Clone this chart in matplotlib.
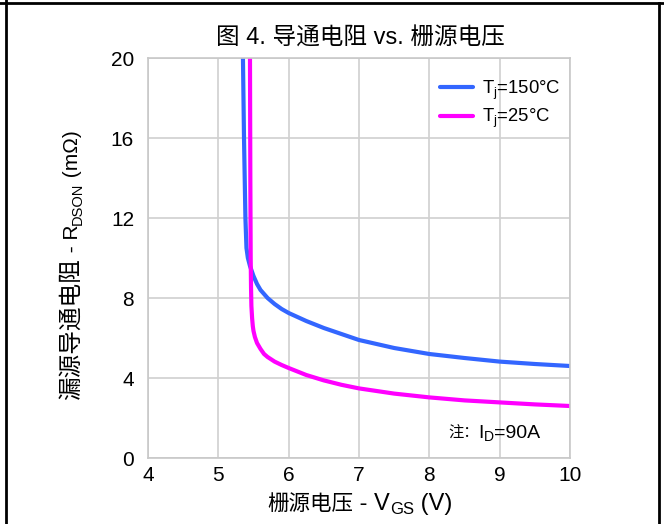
import matplotlib
matplotlib.use("Agg")
import matplotlib.pyplot as plt
from matplotlib.lines import Line2D

plt.rcParams['font.family'] = ['Liberation Sans', 'Noto Sans CJK SC', 'DejaVu Sans']
plt.rcParams['mathtext.fontset'] = 'custom'
plt.rcParams['mathtext.rm'] = 'Liberation Sans'
plt.rcParams['mathtext.it'] = 'Liberation Sans'
plt.rcParams['mathtext.default'] = 'rm'

# Tj = 150C
vgs_hot = [5.35, 5.365, 5.385, 5.40, 5.42, 5.45, 5.5, 5.55, 5.6, 5.7, 5.8, 5.9, 6.0,
           6.25, 6.5, 6.75, 7.0, 7.5, 8.0, 8.5, 9.0, 9.5, 10.0]
rds_hot = [20, 16, 12, 10.5, 10.0, 9.6, 9.1, 8.7, 8.4, 8.0, 7.7, 7.45, 7.25,
           6.85, 6.5, 6.2, 5.9, 5.5, 5.2, 5.0, 4.82, 4.7, 4.6]
# Tj = 25C
vgs_cold = [5.45, 5.455, 5.46, 5.465, 5.47, 5.48, 5.49, 5.5, 5.52, 5.55, 5.6, 5.65,
            5.7, 5.8, 5.9, 6.0, 6.25, 6.5, 6.75, 7.0, 7.5, 8.0, 8.5, 9.0, 9.5, 10.0]
rds_cold = [20, 14, 10, 8.5, 7.6, 7.0, 6.6, 6.35, 6.05, 5.75, 5.45, 5.2,
            5.05, 4.82, 4.65, 4.5, 4.15, 3.88, 3.66, 3.48, 3.22, 3.03, 2.88, 2.78, 2.68, 2.6]

xticks = [4, 5, 6, 7, 8, 9, 10]
yticks = [0, 4, 8, 12, 16, 20]

W, H = 664, 524
fig = plt.figure(figsize=(W / 100, H / 100), dpi=100)
ax = fig.add_axes([148 / W, 1 - 458 / H, 422 / W, 400 / H])

ax.plot(vgs_hot, rds_hot, color='#3366ff', lw=3, label='T$_j$=150°C', solid_capstyle='round')
ax.plot(vgs_cold, rds_cold, color='#ff00ff', lw=3, label='T$_j$=25°C', solid_capstyle='round')

ax.set_xlim(4, 10)
ax.set_ylim(0, 20)
ax.set_xticks(xticks)
ax.set_yticks(yticks)
ax.grid(True, color='#d0d0d0', lw=1.2)
ax.set_axisbelow(True)
for s in ax.spines.values():
    s.set_color('#c8c8c8')
    s.set_linewidth(1.2)
ax.tick_params(length=0, labelsize=15)
ax.tick_params(axis='y', pad=10)
ax.tick_params(axis='x', pad=6)

fig.text(360 / W, 1 - 39 / H, '图 4. 导通电阻 vs. 栅源电压', fontsize=17, ha='center', va='center')

ax.legend(loc='upper right', bbox_to_anchor=(1.018, 0.99), frameon=False, fontsize=13.3,
          handlelength=1.8, handletextpad=0.5, labelspacing=0.28)


def rich_text(parts, cx, cy, rotation=0):
    # parts: (text, fontsize, baseline shift in px); cx, cy in px from bottom-left
    renderer = fig.canvas.get_renderer()
    widths = []
    for s, size, dy in parts:
        t = fig.text(0, 0, s, fontsize=size)
        widths.append(t.get_window_extent(renderer).width)
        t.remove()
    pos = -sum(widths) / 2
    for (s, size, dy), w in zip(parts, widths):
        if rotation == 0:
            px, py = cx + pos, cy + dy
        else:
            px, py = cx - dy, cy + pos
        fig.text(px / W, py / H, s, fontsize=size, rotation=rotation,
                 rotation_mode='anchor', ha='left', va='baseline')
        pos += w


rich_text([('栅源电压', 15.5, 0), (' - V', 17, 0), ('GS', 12, -4), (' (V)', 17, 0)],
          360, H - 510)
rich_text([('漏源导通电阻', 17, 0), (' - R', 15, 0), ('DSON', 10.5, -4), (' (mΩ)', 15, 0)],
          78, H - 265, rotation=90)
rich_text([('注：', 11, 0), ('I', 14, 0), ('D', 10, -3), ('=90A', 14, 0)], 494, H - 438)

# outer frame
fig.add_artist(Line2D([0, 1], [0.9935, 0.9935], color='black', lw=2, transform=fig.transFigure))
fig.add_artist(Line2D([0.009, 0.009], [0, 1], color='black', lw=2, transform=fig.transFigure))
fig.add_artist(Line2D([0.9925, 0.9925], [0, 0.9935], color='black', lw=2, transform=fig.transFigure))

fig.savefig('out.png', dpi=100)
